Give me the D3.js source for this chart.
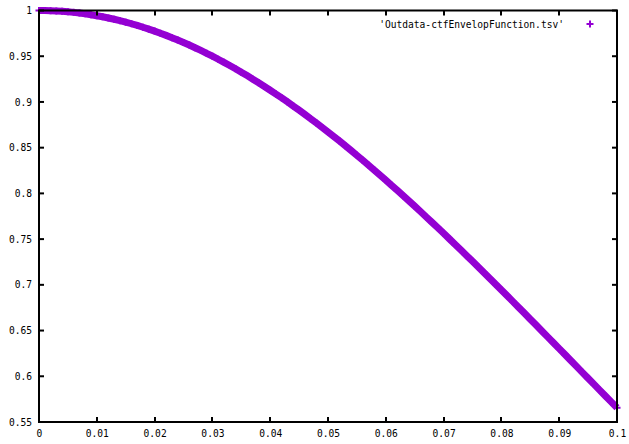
<!DOCTYPE html>
<html>
<head>
<meta charset="utf-8">
<script src="https://cdn.jsdelivr.net/npm/d3@7"></script>
<style>
  html, body { margin: 0; padding: 0; background: #fff; }
  svg { display: block; }
  text { font-family: "DejaVu Sans Mono", "Liberation Mono", monospace; font-size: 9.6px; fill: #000; }
</style>
</head>
<body>
<svg id="chart" width="629" height="444"></svg>
<script>
// ---- data ----
const xStep = 0.001;
const yValues = [
  1.00000, 0.99994, 0.99977, 0.99949, 0.99909, 0.99858, 0.99795, 0.99721, 0.99636, 0.99539,
  0.99432, 0.99313, 0.99183, 0.99041, 0.98889, 0.98726, 0.98551, 0.98366, 0.98170, 0.97963,
  0.97746, 0.97518, 0.97279, 0.97030, 0.96770, 0.96500, 0.96220, 0.95930, 0.95630, 0.95319,
  0.95000, 0.94670, 0.94330, 0.93982, 0.93623, 0.93256, 0.92879, 0.92494, 0.92099, 0.91696,
  0.91284, 0.90863, 0.90434, 0.89997, 0.89552, 0.89099, 0.88638, 0.88169, 0.87693, 0.87210,
  0.86719, 0.86221, 0.85717, 0.85205, 0.84687, 0.84162, 0.83632, 0.83095, 0.82552, 0.82003,
  0.81449, 0.80889, 0.80324, 0.79754, 0.79179, 0.78599, 0.78014, 0.77425, 0.76831, 0.76234,
  0.75632, 0.75026, 0.74417, 0.73805, 0.73189, 0.72570, 0.71948, 0.71323, 0.70696, 0.70066,
  0.69434, 0.68799, 0.68163, 0.67525, 0.66885, 0.66244, 0.65601, 0.64958, 0.64313, 0.63667,
  0.63021, 0.62374, 0.61727, 0.61079, 0.60432, 0.59784, 0.59137, 0.58490, 0.57843, 0.57197,
  0.56553
];
const xValues = yValues.map((_, i) => +(i * xStep).toFixed(3));
const xTicks = [0, 0.01, 0.02, 0.03, 0.04, 0.05, 0.06, 0.07, 0.08, 0.09, 0.1];
const xTickLabels = ["0", "0.01", "0.02", "0.03", "0.04", "0.05", "0.06", "0.07", "0.08", "0.09", "0.1"];
const yTicks = [0.55, 0.6, 0.65, 0.7, 0.75, 0.8, 0.85, 0.9, 0.95, 1];
const yTickLabels = ["0.55", "0.6", "0.65", "0.7", "0.75", "0.8", "0.85", "0.9", "0.95", "1"];
const seriesName = "'Outdata-ctfEnvelopFunction.tsv'";
const seriesColor = "#9400d3";

// ---- layout ----
const L = 39, R = 617, T = 10.5, B = 422;
const svg = d3.select("#chart");
const x = d3.scaleLinear().domain([0, 0.1]).range([L, R]);
const y = d3.scaleLinear().domain([0.55, 1]).range([B, T]);
const tickLen = 5;

// series: dense plus markers forming a thick band
const pts = xValues.map((xv, i) => [xv, yValues[i]]);
const line = d3.line().x(d => x(d[0])).y(d => y(d[1]));
svg.append("path").datum(pts)
  .attr("d", line)
  .attr("fill", "none")
  .attr("stroke", seriesColor)
  .attr("stroke-width", 7)
  .attr("stroke-linecap", "butt");
const sym = d3.symbol().type(d3.symbolCross).size(30);
svg.append("g").selectAll("path.pt").data(pts).join("path")
  .attr("class", "pt")
  .attr("transform", d => `translate(${x(d[0])},${y(d[1])})`)
  .attr("d", "M-3.5,0H3.5M0,-3.5V3.5")
  .attr("stroke", seriesColor)
  .attr("stroke-width", 2)
  .attr("fill", "none");

// axes (gnuplot style: inward ticks, mirrored)
const bottom = d3.axisBottom(x).tickValues(xTicks).tickSize(0).tickPadding(8)
  .tickFormat((d, i) => xTickLabels[i]);
const gB = svg.append("g").attr("transform", `translate(0,${B})`).call(bottom);
gB.select(".domain").remove();
gB.selectAll("text").attr("font-family", null).attr("font-size", null).attr("dy", "0.71em");

const left = d3.axisLeft(y).tickValues(yTicks).tickSize(0).tickPadding(7)
  .tickFormat((d, i) => yTickLabels[i]);
const gL = svg.append("g").attr("transform", `translate(${L},0)`).call(left);
gL.select(".domain").remove();
gL.selectAll("text").attr("font-family", null).attr("font-size", null);

// tick marks
const tk = svg.append("g").attr("stroke", "#000").attr("stroke-width", 2);
xTicks.forEach(v => {
  tk.append("line").attr("x1", Math.round(x(v))).attr("x2", Math.round(x(v))).attr("y1", B).attr("y2", B - tickLen);
  tk.append("line").attr("x1", Math.round(x(v))).attr("x2", Math.round(x(v))).attr("y1", T).attr("y2", T + tickLen);
});
yTicks.forEach(v => {
  tk.append("line").attr("y1", y(v)).attr("y2", y(v)).attr("x1", L).attr("x2", L + tickLen);
  tk.append("line").attr("y1", y(v)).attr("y2", y(v)).attr("x1", R).attr("x2", R - tickLen);
});

// border
svg.append("rect").attr("x", L).attr("y", T).attr("width", R - L).attr("height", B - T)
  .attr("fill", "none").attr("stroke", "#000").attr("stroke-width", 2);

// legend
svg.append("text").attr("x", 564).attr("y", 27.5).attr("text-anchor", "end").text(seriesName);
svg.append("path").attr("transform", "translate(590,24)")
  .attr("d", "M-3.5,0H3.5M0,-3.5V3.5")
  .attr("stroke", seriesColor).attr("stroke-width", 2).attr("fill", "none");
</script>
</body>
</html>
